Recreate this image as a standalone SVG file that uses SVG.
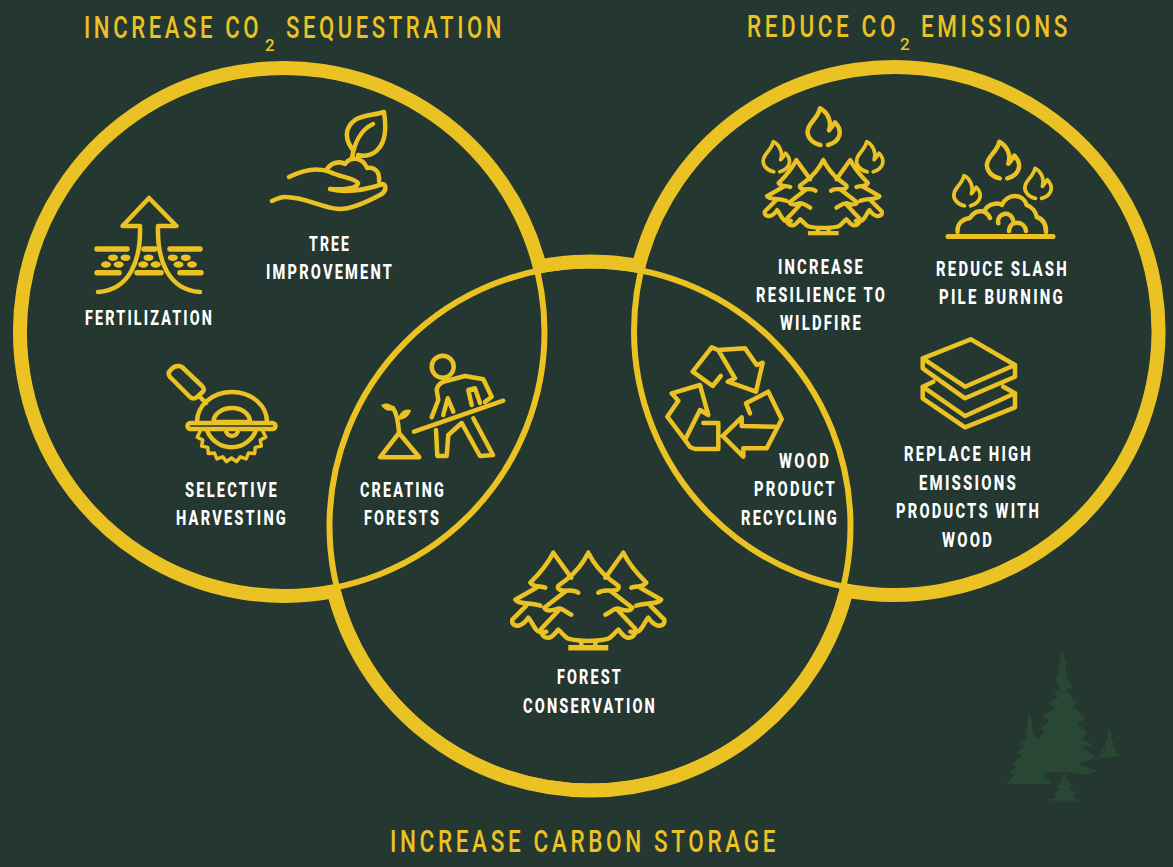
<svg xmlns="http://www.w3.org/2000/svg" xmlns:xlink="http://www.w3.org/1999/xlink" width="1173" height="867" viewBox="0 0 1173 867">
<style>
.ring{fill:none;stroke:#ebc223}
.thick{stroke-width:14}
.thin{stroke-width:6}
.ic{fill:none;stroke:#ebc223;stroke-width:4.5;stroke-linecap:round;stroke-linejoin:round}
.fl{fill:#ebc223}
.lb{font-family:"Roboto","Liberation Sans",sans-serif;font-weight:800;font-size:20px;fill:#fff;letter-spacing:3px}
.tt{font-family:"Roboto","Liberation Sans",sans-serif;font-weight:500;font-size:31px;fill:#ebc223;letter-spacing:5px}
.sub{font-size:17px;letter-spacing:0}
</style>
<defs>
<path id="flame" d="M0.500,36.700 C-8,35 -14,28 -12,21 C-10,13 -2,10 0,0 C8,4 12,14 9,22 C11,20 13,17 15,14 C23,22 21,33 8,36.700"/>
<g id="forest">
<path d="M0,0 C5,10 13,20 22,27 L30,33 C32,37 27,38 22,38 C18,38 14,37 10,40 M22,38 L44,55 C42,59 36,58 30,56 C26,55 22,60 17,62 M30,58 L47,76 C48,82 44,85 40,85 C36,85 33,80 30,77 C26,80 24,84 20,86 C10,89 -10,89 -20,86 C-24,84 -26,80 -30,77 C-33,80 -36,85 -40,85 C-44,85 -48,82 -47,76 L-30,58 M-17,62 C-22,60 -26,55 -30,56 C-36,58 -42,59 -44,55 L-22,38 M-10,40 C-14,37 -18,38 -22,38 C-27,38 -32,37 -30,33 L-22,27 C-13,20 -5,10 0,0"/>
<path d="M17,25 L35,0 C40,10 48,20 58,30 C55,35 48,33 43,35 M52,35 L73,47 C70,52 60,49 48,53 M62,53 L76,67 C77,72 73,73 70,73 C66,72 62,68 60,65 C57,68 55,74 52,77 C50,80 45,80 42,79"/>
<path d="M-17,25 L-35,0 C-40,10 -48,20 -58,30 C-55,35 -48,33 -43,35 M-52,35 L-73,47 C-70,52 -60,49 -48,53 M-62,53 L-76,67 C-77,72 -73,73 -70,73 C-66,72 -62,68 -60,65 C-57,68 -55,74 -52,77 C-50,80 -45,80 -42,79"/>
<path d="M-7,88 V94 M7,88 V94"/>
<path d="M-20,95 H20" style="stroke-width:5.5;stroke-linecap:butt"/>
</g>
</defs>
<rect id="background" width="1173" height="867" fill="#243730"/>
<g id="watermark" transform="translate(990 640) scale(0.3333)" fill="#294735">
<polygon points="217,35 230,70 225,85 232,100 228,112 250,140 225,150 250,170 240,175 265,185 250,200 288,235 262,250 292,280 272,297 310,315 275,320 318,352 265,372 322,392 290,405 240,395 205,395 160,400 185,432 48,432 75,405 55,403 85,375 65,375 95,345 78,340 105,318 92,312 112,290 105,275 113,260 112,235 118,222 125,240 128,270 135,295 150,295 165,270 148,268 180,240 155,230 195,205 175,190 205,170 190,160 210,145 195,115 208,100 203,85 208,70"/>
<polygon points="222,395 212,430 198,440 210,450 190,462 200,470 175,482 272,482 250,470 258,458 240,445 248,435 235,425"/>
<polygon points="358,260 365,285 362,295 372,310 368,318 380,330 375,335 397,350 320,352 340,338 335,330 348,320 342,312 352,298"/>
</g>
<g id="circles">
<circle class="ring thin" cx="284" cy="332" r="260.5"/>
<circle class="ring thin" cx="894.5" cy="331" r="260.5"/>
<circle class="ring thin" cx="590" cy="526" r="260.5"/>
<path class="ring thick" d="M540.6,270.1 A264,264 0 1 0 337.5,590.5"/>
<path class="ring thick" d="M637.7,269.8 A264,264 0 1 1 842.7,589.8"/>
<path class="ring thick" d="M536.4,267 A264.5,264.5 0 0 1 641.9,266.7"/>
<path class="ring thick" d="M332.9,588 A264.5,264.5 0 0 0 847.3,587.3"/>
</g>
<text id="title-sequestration" class="tt" x="84" y="38"><tspan textLength="178" lengthAdjust="spacingAndGlyphs">INCREASE CO</tspan><tspan class="sub" x="265" dy="13">2</tspan><tspan x="286" dy="-13" textLength="219" lengthAdjust="spacingAndGlyphs">SEQUESTRATION</tspan></text>
<text id="title-emissions" class="tt" x="747" y="37"><tspan textLength="152" lengthAdjust="spacingAndGlyphs">REDUCE CO</tspan><tspan class="sub" x="900" dy="13">2</tspan><tspan x="921" dy="-13" textLength="150" lengthAdjust="spacingAndGlyphs">EMISSIONS</tspan></text>
<text id="title-storage" class="tt" x="390" y="852" textLength="389" lengthAdjust="spacingAndGlyphs">INCREASE CARBON STORAGE</text>
<g id="tree-improvement">
<path class="ic" d="M353,150 C345,140 344,128 355,120 C362,115 375,115 384,112 C386,125 386,140 379,148 C374,155 365,157 358,155 M352,158 C354,145 360,130 373,124 M327,169 C332,162 340,161 345,164 C350,157 362,156 367,168 C375,167 380,172 379,181 M289,177 C303,170 318,167 330,172 C340,177 355,178 358,183 C358,187 350,190 330,189 C345,193 365,190 383,184 C387,186 386,192 380,195 C365,203 350,210 338,209 C320,207 305,197 285,197 C280,197 276,199 272,201"/>
<text class="lb" x="309" y="251" textLength="42" lengthAdjust="spacingAndGlyphs">TREE</text>
<text class="lb" x="266" y="279" textLength="128" lengthAdjust="spacingAndGlyphs">IMPROVEMENT</text>
</g>
<g id="fertilization">
<path class="ic" d="M140,226 H122.5 L149,198 L176.5,226 H158 C157,260 168,290 200,292 M140,226 C141,260 130,290 98,292"/>
<path class="ic" style="stroke-width:5.5" d="M97,249 H127 M144,249 H155 M170,249 H200 M97,272.700 H119 M137,272.700 H161 M180,272.700 H201"/>
<g class="fl">
<ellipse cx="113" cy="257.700" rx="5" ry="3.300"/><ellipse cx="125.500" cy="257.700" rx="5" ry="3.300"/><ellipse cx="148.500" cy="257.700" rx="5" ry="3.300"/><ellipse cx="172.800" cy="257.700" rx="5" ry="3.300"/><ellipse cx="185.800" cy="257.700" rx="5" ry="3.300"/>
<ellipse cx="106" cy="264.500" rx="5" ry="3.300"/><ellipse cx="118.700" cy="264.500" rx="5" ry="3.300"/><ellipse cx="143.200" cy="264.500" rx="5" ry="3.300"/><ellipse cx="155.700" cy="264.500" rx="5" ry="3.300"/><ellipse cx="178.500" cy="264.500" rx="5" ry="3.300"/><ellipse cx="192" cy="264.500" rx="5" ry="3.300"/>
</g>
<text class="lb" x="85" y="325" textLength="129" lengthAdjust="spacingAndGlyphs">FERTILIZATION</text>
</g>
<g id="selective-harvesting">
<path class="ic" d="M178.300,366 Q174,366 171,369.500 Q167,373 170,377 L190,397 Q193.500,400 197,397 L203,391.500 Q205,389 202,386 L182,367 Q180,366 178.300,366 Z M199,396 L206,403 M197,422 C197,405 213,392 232,392 C251,392 267,405 267,422 M213.500,422 C213.500,414 222,408 232,408 C242,408 250,414 250,422 Z M226,430 A6,6 0 0 0 238,430 M207,430 A26,26 0 0 0 256,430"/>
<rect class="ic" x="187.500" y="423" width="88" height="6" rx="3"/>
<path class="ic" style="stroke-width:3.5" d="M263,431.600 L265.700,437.100 L260.300,440 L261.300,446.100 L255.300,447.400 L254.600,453.600 L248.500,453.100 L246.100,458.900 L240.300,456.800 L236.500,461.600 L231.500,458 L226.500,461.600 L222.700,456.800 L216.900,458.900 L214.500,453.100 L208.400,453.600 L207.700,447.400 L201.700,446.100 L202.700,440 L197.300,437.100 L200,431.600"/>
<text class="lb" x="185" y="497" textLength="94" lengthAdjust="spacingAndGlyphs">SELECTIVE</text>
<text class="lb" x="176" y="525" textLength="112" lengthAdjust="spacingAndGlyphs">HARVESTING</text>
</g>
<g id="creating-forests">
<circle class="ic" cx="442.700" cy="366.700" r="11"/>
<path class="ic" d="M431.700,417.300 L438.300,400 L436.700,390 Q437,385 443.300,381.700 L465,376 L483.300,379.300 L491.700,396.700 L485,402 M480,403 L475,388.300 L468.300,390 L471.700,405 M473.300,418.300 L493,455 L480,456 L461.700,423 L448.300,435 L446.700,456 L437.300,456 L436,430 M443.300,415 L447.700,398.300 L453.300,411.700 M414,431.700 L503.300,400.700 M399,433 L380,457.300 H419.300 Z M399,432 C398,420 396,412 393,408"/>
<path class="fl" d="M381,405 C386,402 392,403 395,410 C388,412 384,410 381,405Z M411,410 C405,408 399,412 398,420 C404,420 410,416 411,410Z"/>
<text class="lb" x="360" y="497" textLength="86" lengthAdjust="spacingAndGlyphs">CREATING</text>
<text class="lb" x="364" y="525" textLength="77" lengthAdjust="spacingAndGlyphs">FORESTS</text>
</g>
<g id="resilience-to-wildfire">
<g class="ic">
<use xlink:href="#flame" href="#flame" transform="translate(820 108.300)"/>
<use xlink:href="#flame" href="#flame" transform="translate(773.300 141.700) scale(.82)"/>
<use xlink:href="#flame" href="#flame" transform="translate(866.700 141.700) scale(.82)"/>
<use xlink:href="#forest" href="#forest" transform="translate(823.300 160) scale(.77)" style="stroke-width:5.5"/>
</g>
<text class="lb" x="778" y="274" textLength="87" lengthAdjust="spacingAndGlyphs">INCREASE</text>
<text class="lb" x="756" y="302" textLength="131" lengthAdjust="spacingAndGlyphs">RESILIENCE TO</text>
<text class="lb" x="780" y="330" textLength="83" lengthAdjust="spacingAndGlyphs">WILDFIRE</text>
</g>
<g id="reduce-slash">
<g class="ic">
<use xlink:href="#flame" href="#flame" transform="translate(999.300 141.700)"/>
<use xlink:href="#flame" href="#flame" transform="translate(964 175.700) scale(.82)"/>
<use xlink:href="#flame" href="#flame" transform="translate(1035 168.300) scale(.82)"/>
<path d="M957.500,232 C957,223 963,219 970,218 C974,211 985,207 990,218 M985,210 C988,204 998,202 1002,205 C1007,193 1023,193 1026.700,205 C1032,207 1036,212 1036.700,217 C1043,219 1046,225 1046,232 M998.300,223.300 C996,213 1011,210 1013,220 M1009,231 C1010,219 1025,221 1026,231"/>
<path d="M948,236.500 H1053" style="stroke-width:5"/>
</g>
<text class="lb" x="936" y="276" textLength="133" lengthAdjust="spacingAndGlyphs">REDUCE SLASH</text>
<text class="lb" x="939" y="304" textLength="126" lengthAdjust="spacingAndGlyphs">PILE BURNING</text>
</g>
<g id="wood-product-recycling">
<path class="ic" d="M718.300,350 L745,348.300 L756.700,365 L762.700,362.700 L756,391.700 L727.700,381.700 L735,378.300 Z M718.300,350 L711.700,347.300 L692.700,371.700 L712.700,386 L720.700,376 M750,413.300 L746,403.300 L768.300,391.700 L781.700,419.300 L766.700,448.300 H743.300 V456.700 L722.700,436 L741.700,417.300 V426 L775,426.700 M700,385 L671.700,393.300 L678.300,400.700 L667.300,416.700 L685,440 L700,410 L708.300,415 Z M685,440 L690,447 L695,449 H718.300 V423 H703.300"/>
<text class="lb" x="779" y="468" textLength="52" lengthAdjust="spacingAndGlyphs">WOOD</text>
<text class="lb" x="754" y="496" textLength="83" lengthAdjust="spacingAndGlyphs">PRODUCT</text>
<text class="lb" x="741" y="525" textLength="98" lengthAdjust="spacingAndGlyphs">RECYCLING</text>
</g>
<g id="replace-high-emissions">
<path class="ic" d="M970.700,339.300 L1015,365 L965,386.700 L922.700,358.300 Z M922.700,358.300 V368.300 L965,398.300 L1015,376.700 V365 M933.300,381.700 L922.700,386.700 L965,416 L1015,393.300 L1003.300,386.700 M922.700,386.700 V398.300 L965,427.300 L1015,407.300 V393.300"/>
<text class="lb" x="904" y="461" textLength="129" lengthAdjust="spacingAndGlyphs">REPLACE HIGH</text>
<text class="lb" x="919" y="490" textLength="99" lengthAdjust="spacingAndGlyphs">EMISSIONS</text>
<text class="lb" x="896" y="518" textLength="145" lengthAdjust="spacingAndGlyphs">PRODUCTS WITH</text>
<text class="lb" x="942" y="547" textLength="52" lengthAdjust="spacingAndGlyphs">WOOD</text>
</g>
<g id="forest-conservation">
<use class="ic" xlink:href="#forest" href="#forest" transform="translate(588.300 552.700)"/>
<text class="lb" x="557" y="684" textLength="66" lengthAdjust="spacingAndGlyphs">FOREST</text>
<text class="lb" x="523" y="713" textLength="134" lengthAdjust="spacingAndGlyphs">CONSERVATION</text>
</g>
</svg>
